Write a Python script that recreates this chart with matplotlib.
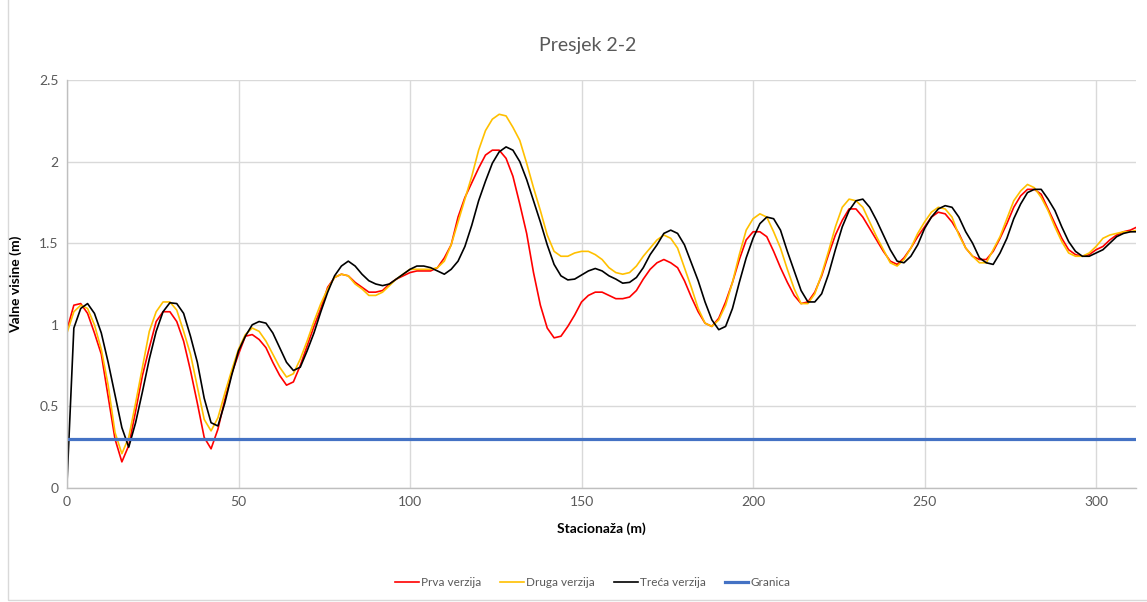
import numpy as np
import matplotlib
matplotlib.use("Agg")
import matplotlib.pyplot as plt
from matplotlib.ticker import FuncFormatter
from matplotlib.patches import Rectangle

plt.rcParams['font.family'] = ['Lato', 'DejaVu Sans']

stations = np.arange(0, 313, 2)

prva = [0.97, 1.12, 1.13, 1.07, 0.95, 0.82, 0.56, 0.30, 0.16, 0.26,
        0.47, 0.69, 0.86, 1.02, 1.08, 1.08, 1.02, 0.90, 0.72, 0.52,
        0.31, 0.24, 0.36, 0.54, 0.70, 0.82, 0.93, 0.94, 0.91, 0.86,
        0.77, 0.69, 0.63, 0.65, 0.75, 0.87, 0.99, 1.10, 1.23, 1.29,
        1.31, 1.30, 1.26, 1.23, 1.20, 1.20, 1.21, 1.25, 1.28, 1.30,
        1.32, 1.33, 1.33, 1.33, 1.35, 1.41, 1.49, 1.66, 1.78, 1.87,
        1.96, 2.04, 2.07, 2.07, 2.02, 1.91, 1.74, 1.56, 1.32, 1.12,
        0.98, 0.92, 0.93, 0.99, 1.06, 1.14, 1.18, 1.20, 1.20, 1.18,
        1.16, 1.16, 1.17, 1.21, 1.28, 1.34, 1.38, 1.40, 1.38, 1.35,
        1.27, 1.17, 1.08, 1.01, 0.99, 1.04, 1.14, 1.26, 1.40, 1.52,
        1.57, 1.57, 1.54, 1.45, 1.35, 1.26, 1.18, 1.13, 1.14, 1.20,
        1.30, 1.43, 1.55, 1.64, 1.71, 1.71, 1.66, 1.59, 1.52, 1.45,
        1.39, 1.37, 1.41, 1.47, 1.54, 1.60, 1.66, 1.69, 1.68, 1.63,
        1.56, 1.47, 1.42, 1.40, 1.40, 1.45, 1.53, 1.62, 1.72, 1.79,
        1.83, 1.83, 1.80, 1.71, 1.62, 1.53, 1.46, 1.43, 1.42, 1.43,
        1.46, 1.48, 1.52, 1.55, 1.57, 1.58, 1.60]

druga = [0.95, 1.08, 1.12, 1.10, 1.00, 0.85, 0.63, 0.34, 0.21, 0.31,
         0.52, 0.74, 0.96, 1.08, 1.14, 1.14, 1.09, 0.96, 0.82, 0.62,
         0.42, 0.35, 0.43, 0.58, 0.72, 0.85, 0.94, 0.98, 0.96, 0.90,
         0.82, 0.74, 0.68, 0.70, 0.79, 0.90, 1.02, 1.13, 1.22, 1.29,
         1.31, 1.30, 1.25, 1.22, 1.18, 1.18, 1.20, 1.24, 1.28, 1.31,
         1.34, 1.34, 1.34, 1.34, 1.35, 1.39, 1.49, 1.63, 1.77, 1.91,
         2.07, 2.19, 2.26, 2.29, 2.28, 2.21, 2.13, 1.99, 1.84, 1.70,
         1.55, 1.45, 1.42, 1.42, 1.44, 1.45, 1.45, 1.43, 1.40, 1.35,
         1.32, 1.31, 1.32, 1.36, 1.42, 1.47, 1.52, 1.55, 1.53, 1.47,
         1.35, 1.23, 1.10, 1.01, 0.99, 1.03, 1.12, 1.26, 1.43, 1.58,
         1.65, 1.68, 1.66, 1.57, 1.47, 1.34, 1.22, 1.13, 1.13, 1.19,
         1.31, 1.45, 1.60, 1.72, 1.77, 1.76, 1.72, 1.63, 1.54, 1.46,
         1.38, 1.36, 1.40, 1.47, 1.56, 1.63, 1.69, 1.72, 1.71, 1.66,
         1.55, 1.47, 1.42, 1.38, 1.38, 1.46, 1.54, 1.65, 1.76, 1.82,
         1.86, 1.84, 1.78, 1.70, 1.60, 1.51, 1.44, 1.42, 1.42, 1.44,
         1.48, 1.53, 1.55, 1.56, 1.57, 1.57, 1.58]

treca = [0.03, 0.98, 1.10, 1.13, 1.07, 0.95, 0.77, 0.57, 0.37, 0.25,
         0.40, 0.59, 0.79, 0.96, 1.08, 1.135, 1.13, 1.07, 0.93, 0.77,
         0.55, 0.40, 0.38, 0.52, 0.69, 0.84, 0.93, 1.00, 1.02, 1.01,
         0.95, 0.86, 0.77, 0.72, 0.74, 0.84, 0.95, 1.08, 1.20, 1.30,
         1.36, 1.39, 1.36, 1.31, 1.27, 1.25, 1.24, 1.25, 1.28, 1.31,
         1.34, 1.36, 1.36, 1.35, 1.33, 1.31, 1.34, 1.39, 1.48, 1.61,
         1.76, 1.88, 1.99, 2.06, 2.09, 2.07, 2.00, 1.89, 1.76, 1.63,
         1.49, 1.37, 1.30, 1.275, 1.28, 1.305, 1.33, 1.345, 1.33, 1.30,
         1.28, 1.255, 1.26, 1.29, 1.35, 1.43, 1.49, 1.56, 1.58, 1.56,
         1.49, 1.38, 1.27, 1.14, 1.03, 0.97, 0.99, 1.10, 1.26, 1.41,
         1.53, 1.62, 1.66, 1.65, 1.58, 1.45, 1.33, 1.21, 1.14, 1.14,
         1.19, 1.31, 1.46, 1.60, 1.70, 1.76, 1.77, 1.72, 1.64, 1.55,
         1.46, 1.39, 1.38, 1.42, 1.49, 1.59, 1.66, 1.71, 1.73, 1.72,
         1.66, 1.57, 1.50, 1.41, 1.38, 1.37, 1.44, 1.53, 1.65, 1.74,
         1.81, 1.83, 1.83, 1.77, 1.70, 1.60, 1.51, 1.45, 1.42, 1.42,
         1.44, 1.46, 1.50, 1.54, 1.56, 1.57, 1.57]

granica = [0.3] * len(stations)

series_names = ["Prva verzija", "Druga verzija", "Treća verzija", "Granica"]
series_colors = ["#ff0000", "#ffc000", "#000000", "#4472c4"]
x_ticks = [0, 50, 100, 150, 200, 250, 300]
y_ticks = [0, 0.5, 1, 1.5, 2, 2.5]

fig = plt.figure(figsize=(11.47, 6.02), dpi=100)
fig.patches.append(Rectangle((0.007, 0.003), 1.2, 1.2, transform=fig.transFigure,
                             fill=False, edgecolor="#d9d9d9", lw=1.0))
ax = fig.add_axes([0.0584, 0.1894, 0.9316, 0.6777])

for vals, name, col, lw in zip([prva, druga, treca, granica], series_names,
                                series_colors, [1.2, 1.2, 1.2, 2.3]):
    ax.plot(stations, vals, color=col, lw=lw, label=name)

ax.set_xlim(0, 311.5)
ax.set_ylim(0, 2.5)
ax.set_xticks(x_ticks)
ax.set_yticks(y_ticks)
ax.yaxis.set_major_formatter(FuncFormatter(lambda v, p: f"{v:g}"))
ax.grid(True, color="#d9d9d9", lw=1.0)
ax.set_axisbelow(True)
for s in ["top", "right"]:
    ax.spines[s].set_visible(False)
for s in ["left", "bottom"]:
    ax.spines[s].set_color("#bfbfbf")
    ax.spines[s].set_linewidth(1.0)
ax.tick_params(axis="both", length=0, labelsize=10, labelcolor="#595959", pad=6)

ax.set_xlabel("Stacionaža (m)", fontsize=10, fontweight="bold", labelpad=10)
ax.set_ylabel("Valne visine (m)", fontsize=10, fontweight="bold", labelpad=12)
fig.text(0.512, 0.925, "Presjek 2-2", ha="center", va="center",
         fontsize=14, color="#595959")

leg = fig.legend(loc="center", bbox_to_anchor=(0.517, 0.033), ncol=4,
                 frameon=False, fontsize=8.5, handlelength=2.0,
                 columnspacing=1.6, handletextpad=0.2)
for t in leg.get_texts():
    t.set_color("#595959")

fig.savefig("out.png", dpi=100)
